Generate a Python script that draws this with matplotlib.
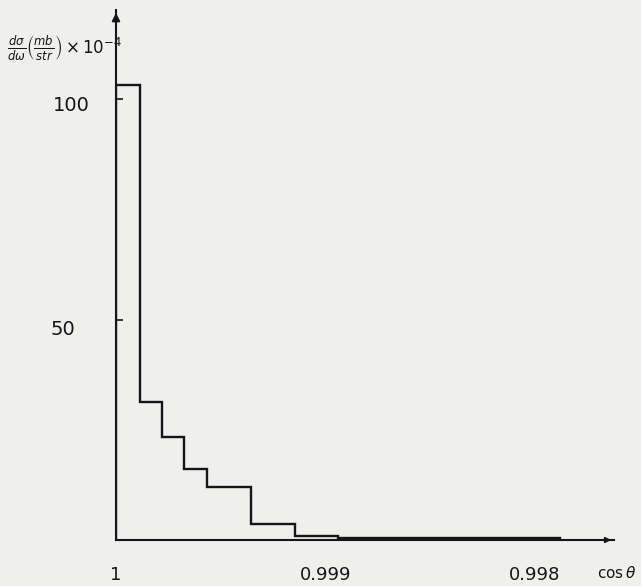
import matplotlib
matplotlib.use('Agg')
import matplotlib.pyplot as plt
import matplotlib.transforms as mtransforms

# bin edges in cos(theta) (increasing order)
bin_edges = [0.99788, 0.99894, 0.999146, 0.999357, 0.999567, 0.999675, 0.999779, 0.999885, 1.0]
# d(sigma)/d(omega) in mb/str x 10^-4, one value per bin
dsigma = [0.35, 0.9, 3.6, 12.1, 16.2, 23.3, 31.2, 103.3]

xtick_pos = [1.0, 0.999, 0.998]
xtick_lab = ['1', '0.999', '0.998']
ytick_pos = [50, 100]
ytick_lab = ['50', '100']

paper = '#efefed'
ink = '#161616'

fig = plt.figure(figsize=(6.41, 5.86), dpi=100, facecolor=paper)
ax = fig.add_axes([116 / 641, 46 / 586, 498 / 641, 530 / 586])
ax.set_facecolor(paper)

ax.stairs(dsigma, bin_edges, color=ink, linewidth=1.7)

ax.set_xlim(1.0, 0.997623)
ax.set_ylim(0, 120.2)

for s in ['top', 'right']:
    ax.spines[s].set_visible(False)
for s in ['left', 'bottom']:
    ax.spines[s].set_color(ink)
    ax.spines[s].set_linewidth(1.5)

# arrows at the ends of both axes
ax.annotate('', xy=(0, 1.0), xytext=(0, 0.96), xycoords='axes fraction',
            arrowprops=dict(arrowstyle='-|>', color=ink, lw=1.3, mutation_scale=12))
ax.annotate('', xy=(1.0, 0), xytext=(0.97, 0), xycoords='axes fraction',
            arrowprops=dict(arrowstyle='-|>', color=ink, lw=1.3, mutation_scale=8))

ax.set_xticks(xtick_pos)
ax.set_xticklabels(xtick_lab)
ax.tick_params(axis='x', length=0, pad=19, labelsize=13, labelcolor=ink)

ax.set_yticks(ytick_pos)
ax.set_yticklabels(ytick_lab)
ax.tick_params(axis='y', direction='in', length=5, width=1.2, color=ink,
               pad=19, labelsize=14, labelcolor=ink)

# hand lettering sits a little lower than the tick marks
shifts = [(-10, -6), (0, -3)]
for lab, (dx, dy) in zip(ax.get_yticklabels(), shifts):
    off = mtransforms.ScaledTranslation(dx / 72, dy / 72, fig.dpi_scale_trans)
    lab.set_transform(lab.get_transform() + off)

fig.text(597 / 641, 1 - 573 / 586, r'$\cos\theta$', fontsize=11, color=ink,
         ha='left', va='center')
fig.text(7 / 641, 1 - 48 / 586,
         r'$\frac{d\sigma}{d\omega}\left(\frac{mb}{str}\right)\times10^{-4}$',
         fontsize=12, color=ink, ha='left', va='center')

fig.savefig('out.png', dpi=100, facecolor=paper)
plt.close(fig)
